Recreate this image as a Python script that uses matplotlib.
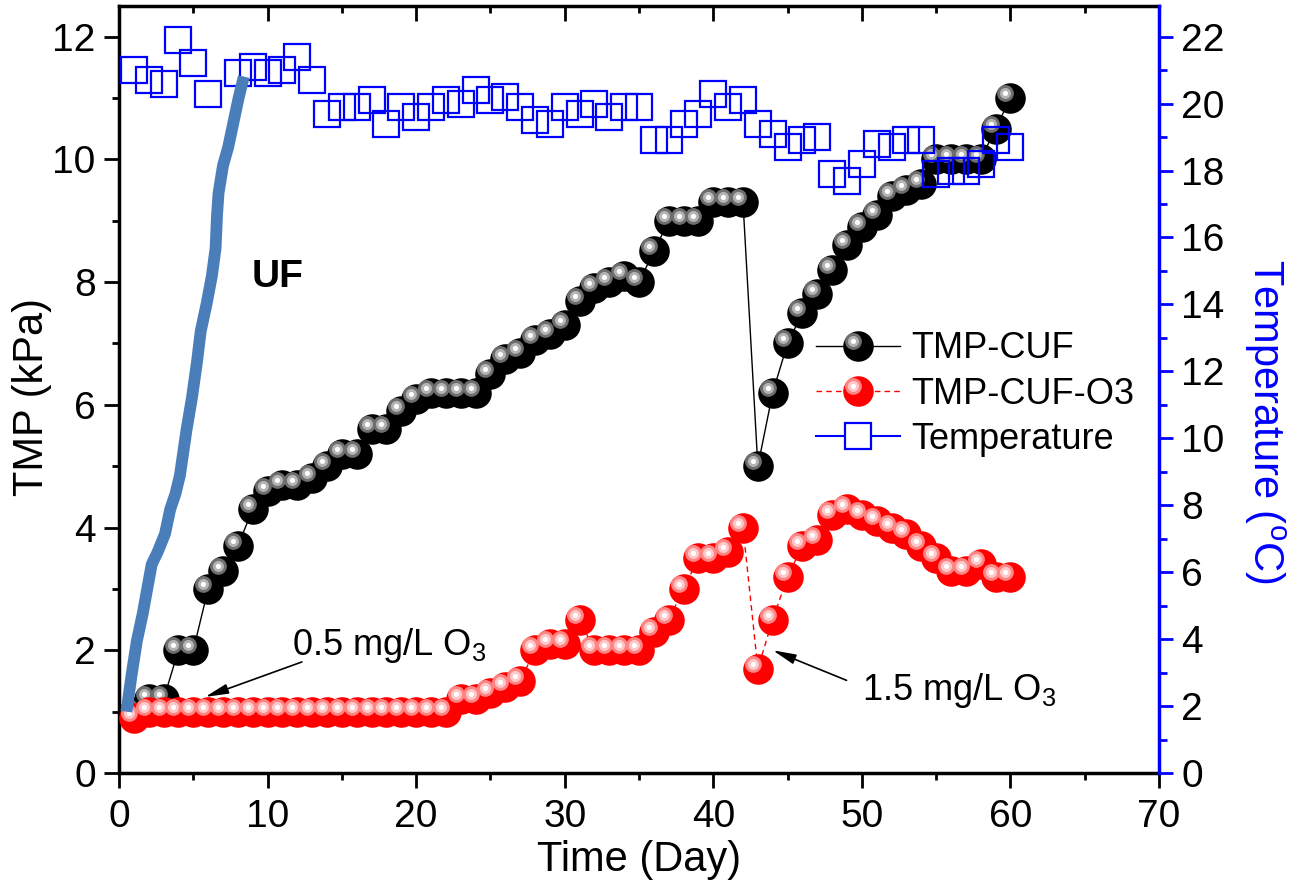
import numpy as np
import matplotlib
matplotlib.use("Agg")
import matplotlib.pyplot as plt
from matplotlib.path import Path
from matplotlib.lines import Line2D
from matplotlib.legend_handler import HandlerTuple
from matplotlib.ticker import MultipleLocator

plt.rcParams['font.family'] = ['Liberation Sans', 'DejaVu Sans']
plt.rcParams['mathtext.fontset'] = 'custom'
plt.rcParams['mathtext.rm'] = 'Liberation Sans'
plt.rcParams['mathtext.it'] = 'Liberation Sans:italic'
plt.rcParams['mathtext.bf'] = 'Liberation Sans:bold'

# --- data ---
days = list(range(1, 61))

tmp_cuf = [1.0, 1.2, 1.2, 2.0, 2.0, 3.0, 3.3, 3.7, 4.3, 4.6,
           4.7, 4.7, 4.8, 5.0, 5.2, 5.2, 5.6, 5.6, 5.9, 6.1,
           6.2, 6.2, 6.2, 6.2, 6.5, 6.75, 6.85, 7.05, 7.15, 7.3,
           7.7, 7.9, 8.0, 8.1, 8.0, 8.5, 9.0, 9.0, 9.0, 9.3,
           9.3, 9.3, 5.0, 6.2, 7.0, 7.5, 7.8, 8.2, 8.6, 8.9,
           9.1, 9.4, 9.5, 9.6, 10.0, 10.0, 10.0, 10.0, 10.5, 11.0]

tmp_cuf_o3 = [0.9, 1.0, 1.0, 1.0, 1.0, 1.0, 1.0, 1.0, 1.0, 1.0,
              1.0, 1.0, 1.0, 1.0, 1.0, 1.0, 1.0, 1.0, 1.0, 1.0,
              1.0, 1.0, 1.2, 1.2, 1.3, 1.4, 1.5, 2.0, 2.1, 2.1,
              2.5, 2.0, 2.0, 2.0, 2.0, 2.3, 2.5, 3.0, 3.5, 3.5,
              3.6, 4.0, 1.7, 2.5, 3.2, 3.7, 3.8, 4.2, 4.3, 4.2,
              4.1, 4.0, 3.9, 3.7, 3.5, 3.3, 3.3, 3.4, 3.2, 3.2]

temp_days = [1, 2, 3, 4, 5, 6, 8, 9, 10, 11, 12, 13, 14, 15, 16, 17, 18, 19, 20,
             21, 22, 23, 24, 25, 26, 27, 28, 29, 30, 31, 32, 33, 34, 35, 36, 37,
             38, 39, 40, 41, 42, 43, 44, 45, 46, 47, 48, 49, 50, 51, 52, 53, 54,
             55, 56, 57, 58, 59, 60]
temperature = [21.0, 20.7, 20.6, 21.9, 21.2, 20.3, 20.9, 21.1, 20.9, 21.0,
               21.4, 20.7, 19.7, 19.9, 19.9, 20.1, 19.4, 19.9, 19.6, 19.9,
               20.1, 20.0, 20.4, 20.1, 20.2, 19.9, 19.5, 19.4, 19.9, 19.7,
               20.0, 19.6, 19.9, 19.9, 18.9, 18.9, 19.4, 19.7, 20.3, 19.9,
               20.1, 19.4, 19.1, 18.7, 18.9, 19.0, 17.9, 17.7, 18.2, 18.8,
               18.7, 18.9, 18.9, 17.9, 18.0, 18.0, 18.2, 18.9, 18.7]

uf_day = [0.5, 0.85, 1.2, 1.6, 1.9, 2.2, 2.6, 3.1, 3.45, 3.8, 4.1, 4.55, 4.9,
          5.25, 5.5, 5.9, 6.25, 6.5, 6.6, 6.7, 7.0, 7.35, 7.7, 8.05, 8.4]
uf_tmp = [1.0, 1.6, 2.15, 2.6, 3.0, 3.4, 3.6, 3.9, 4.3, 4.55, 4.85, 5.6, 6.1,
          6.7, 7.2, 7.65, 8.1, 8.55, 9.1, 9.45, 9.9, 10.2, 10.6, 11.0, 11.35]

SPHERE = 22  # marker size (pt)
RING_R = [0.55, 0.36, 0.17]


def offset_dot(r, dx=-0.33, dy=0.33):
    # circle shifted up-left inside a fixed [-1, 1] box, so it scales with the sphere
    c = Path.circle((dx, dy), r)
    verts = np.vstack([[[-1, -1], [1, 1]], c.vertices])
    codes = np.concatenate([[Path.MOVETO, Path.MOVETO], c.codes])
    return Path(verts, codes)


def spheres(ax, x, y, base, rings, ls, lw, z):
    main, = ax.plot(x, y, color=base, ls=ls, lw=lw, marker='o', ms=SPHERE,
                    mfc=base, mec=base, mew=0, zorder=z)
    handles = [main]
    for r, c in zip(RING_R, rings):
        h, = ax.plot(x, y, ls='none', marker=offset_dot(r), ms=SPHERE,
                     mfc=c, mec=c, mew=0, zorder=z + 0.1)
        handles.append(h)
    return tuple(handles)


fig = plt.figure(figsize=(12.95, 8.88), dpi=100)
ax = fig.add_axes([0.09189, 0.1295, 0.80309, 0.86374])
ax2 = ax.twinx()

h_cuf = spheres(ax, days, tmp_cuf, 'black', ['#6e6e6e', '#b4b4b4', 'white'],
                '-', 1.0, 2)
h_o3 = spheres(ax, days, tmp_cuf_o3, '#ff0000', ['#ff8585', '#ffc8c8', 'white'],
               (0, (4, 3)), 1.0, 3)

ax2.plot(temp_days, temperature, ls='none', marker='s', ms=18.5, mfc='none',
         mec='blue', mew=1.6, zorder=2)
ax2.plot(uf_day, uf_tmp, transform=ax.transData, color='#4a7ebb', lw=8.5,
         solid_capstyle='butt', solid_joinstyle='round', zorder=5)

h_temp = Line2D([], [], color='blue', lw=1.5, marker='s', ms=18.5, mfc='white',
                mec='blue', mew=1.6)

ax.set_xlim(0, 70)
ax.set_ylim(0, 12.5)
ax2.set_ylim(0, 12.5 * 22 / 12)

ax.xaxis.set_major_locator(MultipleLocator(10))
ax.xaxis.set_minor_locator(MultipleLocator(5))
ax.yaxis.set_major_locator(MultipleLocator(2))
ax.yaxis.set_minor_locator(MultipleLocator(1))
ax2.yaxis.set_major_locator(MultipleLocator(2))
ax2.yaxis.set_minor_locator(MultipleLocator(1))

ax.tick_params(which='both', direction='out', width=2, top=False, right=False)
ax.tick_params(which='major', length=10.8)
ax.tick_params(which='minor', length=5)
ax.tick_params(axis='y', labelsize=28, pad=6)
ax.tick_params(axis='x', labelsize=28, pad=8)

# top ticks point inward
ax2.xaxis.set_visible(True)
ax2.tick_params(axis='x', which='both', direction='in', top=True, bottom=False,
                labeltop=False, labelbottom=False, width=2)
ax2.tick_params(axis='x', which='major', length=10.8)
ax2.tick_params(axis='x', which='minor', length=5)

ax2.tick_params(axis='y', which='both', direction='out', color='blue', width=2,
                labelsize=28, labelcolor='black', pad=6)
ax2.tick_params(axis='y', which='major', length=10)
ax2.tick_params(axis='y', which='minor', length=5.5)

for s in ['left', 'bottom', 'top']:
    ax.spines[s].set_linewidth(2.5)
ax.spines['right'].set_visible(False)
for s in ['left', 'bottom', 'top']:
    ax2.spines[s].set_visible(False)
ax2.spines['right'].set_color('blue')
ax2.spines['right'].set_linewidth(2.5)
ax.spines['top'].set_zorder(10)

ax.set_xlabel('Time (Day)', fontsize=30, va='top')
ax.xaxis.set_label_coords(0.5, -0.087)
ax.set_ylabel('TMP (kPa)', fontsize=30, va='center')
ax.yaxis.set_label_coords(-0.084, 0.49)
ax2.set_ylabel('Temperature ($^{\\mathrm{o}}$C)', fontsize=30, color='blue',
               rotation=270, va='center')
ax2.yaxis.set_label_coords(1.102, 0.459)

ax.text(8.9, 7.92, 'UF', fontsize=28, fontweight='bold', ha='left', va='baseline')

ax.annotate('', xy=(5.8, 1.24), xytext=(12.31, 1.81),
            arrowprops=dict(arrowstyle='-|>,head_length=0.7,head_width=0.15',
                            mutation_scale=20, color='black', lw=1.2,
                            shrinkA=0, shrinkB=0), zorder=6)
ax.text(11.66, 1.92, '0.5 mg/L O$_3$', fontsize=26, ha='left', va='baseline')

ax.annotate('', xy=(44.0, 2.0), xytext=(48.97, 1.51),
            arrowprops=dict(arrowstyle='-|>,head_length=0.7,head_width=0.15',
                            mutation_scale=20, color='black', lw=1.2,
                            shrinkA=0, shrinkB=0), zorder=6)
ax.text(50.0, 1.19, '1.5 mg/L O$_3$', fontsize=26, ha='left', va='baseline')

leg = ax2.legend([h_cuf, h_o3, h_temp], ['TMP-CUF', 'TMP-CUF-O3', 'Temperature'],
                 handler_map={tuple: HandlerTuple(ndivide=1, pad=0)},
                 loc='center left', bbox_to_anchor=(0.67, 0.494),
                 frameon=False, fontsize=26, borderpad=0, borderaxespad=0,
                 handlelength=2.33, handletextpad=0.3, labelspacing=0.28,
                 numpoints=1)
leg.set_zorder(20)

fig.savefig('out.png', dpi=100)
